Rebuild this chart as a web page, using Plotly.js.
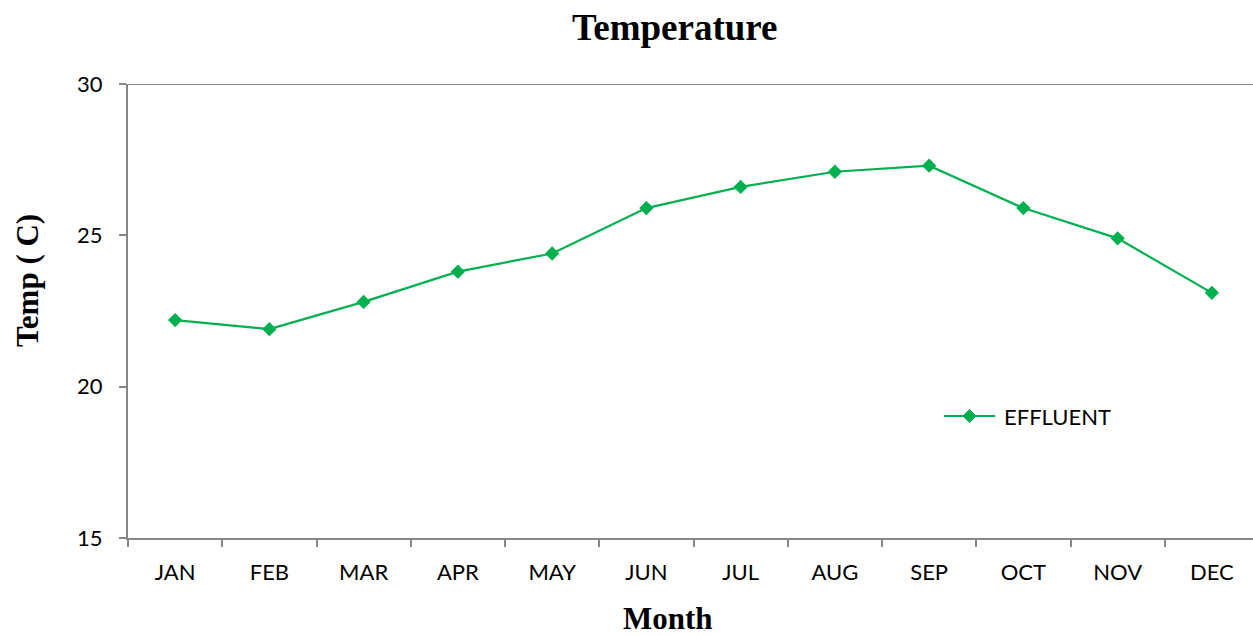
<!DOCTYPE html>
<html>
<head>
<meta charset="utf-8">
<script src="https://cdn.plot.ly/plotly-3.0.1.min.js"></script>
<style>html,body{margin:0;padding:0;background:#fff;overflow:hidden;}#chart{width:1259px;height:636px;}</style>
</head>
<body>
<div id="chart"></div>
<script>
const months = ["JAN","FEB","MAR","APR","MAY","JUN","JUL","AUG","SEP","OCT","NOV","DEC"];
const effluent = [22.2, 21.9, 22.8, 23.8, 24.4, 25.9, 26.6, 27.1, 27.3, 25.9, 24.9, 23.1];
const yTicks = [15, 20, 25, 30];
const seriesName = "EFFLUENT";

const axisColor = "#868686";
const green = "#00B050";
const L = 128, T = 84, PW = 1131, PH = 454;
const px = v => (v - L) / PW;          // pixel -> paper x
const py = v => (T + PH - v) / PH;     // pixel -> paper y

const trace = {
  x: months, y: effluent, type: "scatter", mode: "lines+markers", name: seriesName,
  line: {color: green, width: 2.2},
  marker: {symbol: "diamond", size: 11, color: green}
};
const layout = {
  width: 1259, height: 636,
  margin: {l: L, r: 0, t: T, b: 636 - T - PH},
  paper_bgcolor: "#fff", plot_bgcolor: "#fff",
  showlegend: false,
  xaxis: {
    type: "category", range: [-0.5, 11.5], tickson: "boundaries",
    showline: true, linecolor: axisColor, linewidth: 2,
    ticks: "outside", ticklen: 7, tickwidth: 2, tickcolor: axisColor,
    showgrid: false, zeroline: false,
    tickfont: {family: "Lato", size: 22, color: "#000"}, ticklabelstandoff: 14
  },
  yaxis: {
    range: [15, 30], tickvals: yTicks, ticktext: yTicks.map(String),
    showline: true, linecolor: axisColor, linewidth: 2,
    ticks: "outside", ticklen: 7, tickwidth: 2, tickcolor: axisColor,
    showgrid: false, zeroline: false,
    tickfont: {family: "Lato", size: 22, color: "#000"}, ticklabelstandoff: 12
  },
  shapes: [
    {type: "line", xref: "paper", yref: "y", x0: 0, x1: 1, y0: 30, y1: 30, line: {color: axisColor, width: 2}},
    {type: "line", xref: "paper", yref: "paper", x0: px(944), x1: px(995), y0: py(416), y1: py(416), line: {color: green, width: 2.2}},
    {type: "path", xref: "paper", yref: "paper", xsizemode: "pixel", ysizemode: "pixel",
     xanchor: px(969.5), yanchor: py(416), path: "M -6.5 0 L 0 6.5 L 6.5 0 L 0 -6.5 Z",
     fillcolor: green, line: {color: green, width: 1}}
  ],
  annotations: [
    {text: "<b>Temperature</b>", xref: "paper", yref: "paper", x: px(675), y: py(27), xanchor: "center", yanchor: "middle",
     showarrow: false, font: {family: "Liberation Serif", size: 37, color: "#000"}},
    {text: "<b>Month</b>", xref: "paper", yref: "paper", x: px(667.5), y: py(618), xanchor: "center", yanchor: "middle",
     showarrow: false, font: {family: "Liberation Serif", size: 31, color: "#000"}},
    {text: "<b>Temp ( C)</b>", xref: "paper", yref: "paper", x: px(27), y: py(281), xanchor: "center", yanchor: "middle",
     textangle: -90, showarrow: false, font: {family: "Liberation Serif", size: 31, color: "#000"}},
    {text: seriesName, xref: "paper", yref: "paper", x: px(1002), y: py(416), xanchor: "left", yanchor: "middle",
     showarrow: false, font: {family: "Lato", size: 22, color: "#000"}}
  ]
};
Plotly.newPlot("chart", [trace], layout, {displayModeBar: false});
</script>
</body>
</html>
